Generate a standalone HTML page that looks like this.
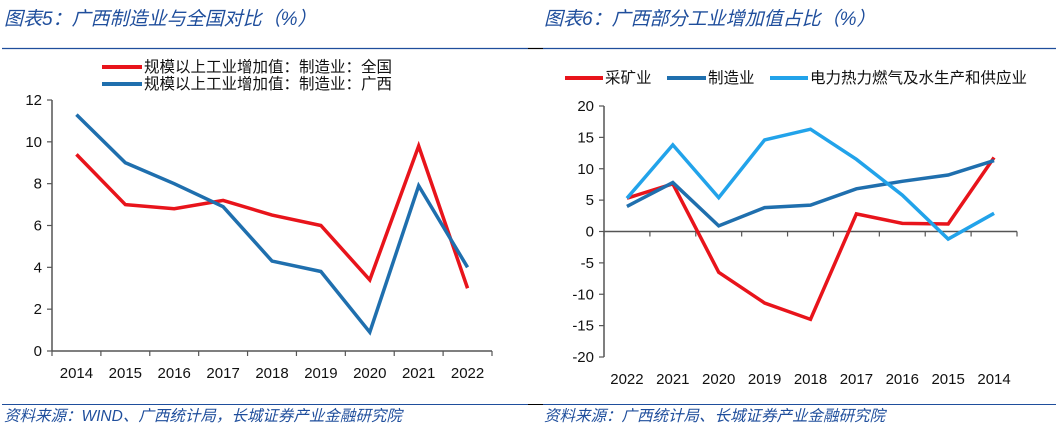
<!DOCTYPE html>
<html><head><meta charset="utf-8"><style>
body{margin:0;background:#fff;width:1056px;height:434px;overflow:hidden;font-family:"Liberation Sans","Noto Sans CJK SC",sans-serif}
svg text{font-family:"Liberation Sans","Noto Sans CJK SC",sans-serif}
</style></head><body>
<svg width="1056" height="434">
<g id="left"></g>
<g id="right"></g>
</svg>
<script>
const leftCats=["2014","2015","2016","2017","2018","2019","2020","2021","2022"];
const leftNational=[9.4,7.0,6.8,7.2,6.5,6.0,3.4,9.8,3.0];
const leftGuangxi=[11.3,9.0,8.0,6.9,4.3,3.8,0.9,7.9,4.0];
const leftTicks=[0,2,4,6,8,10,12];
const rightCats=["2022","2021","2020","2019","2018","2017","2016","2015","2014"];
const rightMining=[5.3,7.6,-6.5,-11.4,-14.0,2.8,1.3,1.2,11.8];
const rightMfg=[4.0,7.8,0.9,3.8,4.2,6.8,8.0,9.0,11.3];
const rightElec=[5.3,13.8,5.4,14.6,16.3,11.5,5.8,-1.2,2.9];
const rightTicks=[-20,-15,-10,-5,0,5,10,15,20];
const NS="http://www.w3.org/2000/svg";
function mk(p,tag,at,txt){const e=document.createElementNS(NS,tag);for(const k in at)e.setAttribute(k,at[k]);if(txt!=null)e.textContent=txt;p.appendChild(e);return e;}
const RED="#e8141b",BLUE="#1f6fae",LBLUE="#22a3ea",TB="#1f4e9c";
function frame(g,x0,x1,tx,title,src){
  let t=mk(g,"text",{x:tx,y:25,"font-size":19,"font-style":"italic",fill:TB},title);
  
  
  let l=mk(g,"line",{x1:x0,x2:x1,y1:48.5,y2:48.5,stroke:TB,"stroke-width":1.2});
  
  
  let l2=mk(g,"line",{x1:x0,x2:x1,y1:404.5,y2:404.5,stroke:TB,"stroke-width":1});
  
  
  let s=mk(g,"text",{x:tx,y:421,"font-size":15.5,"font-style":"italic",fill:TB},src);
  
  
}
function chart(g,o){
  const {ax,x1,ytop,ybot,min,max,cats,ticks,series}=o;
  const bw=(x1-ax)/cats.length;
  const X=i=>ax+bw*(i+0.5);
  const Y=v=>ybot-(v-min)/(max-min)*(ybot-ytop);
  const zero=Y(Math.max(min,0));
  let ya=mk(g,"line",{x1:ax,x2:ax,y1:ytop,y2:ybot,stroke:"#555","stroke-width":1.5});
  
  
  ticks.forEach(v=>{
    mk(g,"line",{x1:ax-5,x2:ax,y1:Y(v),y2:Y(v),stroke:"#555","stroke-width":1.2});
    let t=mk(g,"text",{x:ax-10,y:Y(v)+5,"font-size":15,"text-anchor":"end",fill:"#111"},v);
    
    
  });
  let xa=mk(g,"line",{x1:ax,x2:x1,y1:zero,y2:zero,stroke:"#555","stroke-width":1.5});
  
  
  for(let i=0;i<=cats.length;i++)mk(g,"line",{x1:ax+bw*i,x2:ax+bw*i,y1:zero,y2:zero+5,stroke:"#555","stroke-width":1.2});
  cats.forEach((c,i)=>{
    let t=mk(g,"text",{x:X(i),y:o.xly,"font-size":15,"text-anchor":"middle",fill:"#111"},c);
    
    
  });
  series.forEach(s=>{
    let p=mk(g,"polyline",{points:s.d.map((v,i)=>X(i)+","+Y(v)).join(" "),fill:"none",stroke:s.c,"stroke-width":3.5,"stroke-linejoin":"miter"});
    
    
  });
}
function legend(g,x,y,w,c,label){
  let gg=mk(g,"g",{});
  
  
  mk(gg,"line",{x1:x,x2:x+w,y1:y,y2:y,stroke:c,"stroke-width":4});
  mk(gg,"text",{x:x+w+2,y:y+5,"font-size":15.5,fill:"#111"},label);
}
const L=document.getElementById("left"),R=document.getElementById("right");
frame(L,2,528,4,"图表5：广西制造业与全国对比（%）","资料来源：WIND、广西统计局，长城证券产业金融研究院");
frame(R,543,1056,544,"图表6：广西部分工业增加值占比（%）","资料来源：广西统计局、长城证券产业金融研究院");
mk(R,"line",{x1:528,x2:543,y1:48.5,y2:48.5,stroke:"#000","stroke-width":1.2});
mk(R,"line",{x1:528,x2:543,y1:404.5,y2:404.5,stroke:"#000","stroke-width":1});
legend(L,102,67,40,RED,"规模以上工业增加值：制造业：全国");
legend(L,102,84,40,BLUE,"规模以上工业增加值：制造业：广西");
chart(L,{ax:52,x1:492,ytop:100,ybot:351,min:0,max:12,cats:leftCats,ticks:leftTicks,xly:378,
 series:[{d:leftNational,c:RED,n:"line-national"},{d:leftGuangxi,c:BLUE,n:"line-guangxi"}]});
legend(R,565,78,38,RED,"采矿业");
legend(R,667,78,39,BLUE,"制造业");
legend(R,770,78,38,LBLUE,"电力热力燃气及水生产和供应业");
chart(R,{ax:604,x1:1017,ytop:106,ybot:357,min:-20,max:20,cats:rightCats,ticks:rightTicks,xly:384,
 series:[{d:rightMining,c:RED,n:"line-mining"},{d:rightMfg,c:BLUE,n:"line-manufacturing"},{d:rightElec,c:LBLUE,n:"line-utilities"}]});
</script>
</body></html>
